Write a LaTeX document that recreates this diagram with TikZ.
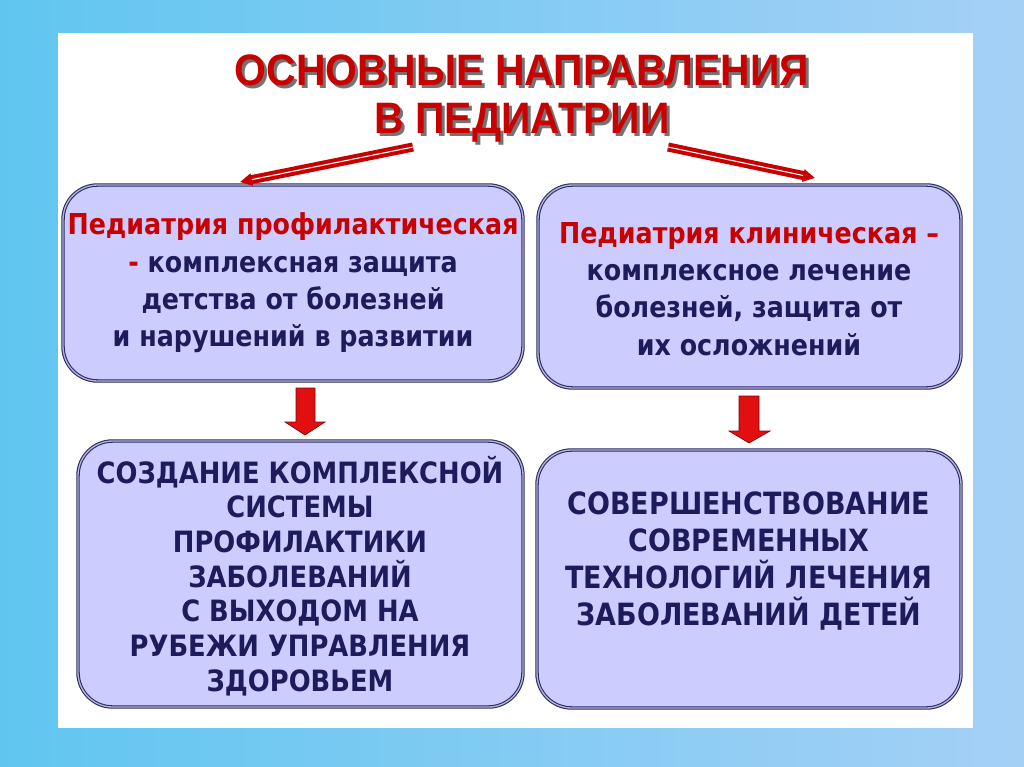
\documentclass[tikz,border=0pt]{standalone}
\usepackage{fontspec}
\setmainfont{Liberation Sans}
\newfontfamily\titlefont[FakeStretch=0.93]{Liberation Sans}
\newfontfamily\boxfont[FakeStretch=0.88]{DejaVu Sans}
\usetikzlibrary{arrows.meta}
\definecolor{bgA}{RGB}{96,198,240}
\definecolor{bgB}{RGB}{165,208,246}
\definecolor{boxfill}{RGB}{204,204,255}
\definecolor{boxline}{RGB}{40,40,110}
\definecolor{navytext}{RGB}{28,28,92}
\definecolor{redtext}{RGB}{200,0,0}
\definecolor{arrowred}{RGB}{225,15,15}
\tikzset{
  rbox/.style={draw=boxline, fill=boxfill, rounded corners=26pt, line width=0.8pt, double=boxline!35, double distance=1pt},
  boxtext/.style={align=center, text=navytext, font=\boxfont\bfseries\fontsize{21.6pt}{28pt}\selectfont},
  captext/.style={align=center, text=navytext, font=\boxfont\bfseries\fontsize{22pt}{26pt}\selectfont},
  captextb/.style={align=center, text=navytext, font=\boxfont\bfseries\fontsize{23pt}{27.8pt}\selectfont},
  titletext/.style={align=center, font=\titlefont\bfseries\fontsize{33pt}{36pt}\selectfont},
  blockarrow/.style={draw=arrowred!55!black, line width=0.5pt, fill=arrowred, line join=miter},
  linkarrow/.style={draw=redtext, line width=3pt, double=white, double distance=0.8pt, -{Triangle[length=9pt,width=9pt]}}
}
\begin{document}
\begin{tikzpicture}[x=0.75pt,y=-0.75pt]
\useasboundingbox (0,0) rectangle (1024,767);
\shade[left color=bgA, right color=bgB] (0,0) rectangle (1024,767);
\fill[white] (58,33) rectangle (973,728);
% title
\node[titletext, text=black!55] at (525,102) {ОСНОВНЫЕ НАПРАВЛЕНИЯ\\В ПЕДИАТРИИ};
\node[titletext, text=redtext] (title) at (522,99) {ОСНОВНЫЕ НАПРАВЛЕНИЯ\\В ПЕДИАТРИИ};
% boxes
\draw[rbox] (63,185) rectangle (523,381);
\draw[rbox] (538,185) rectangle (961,388);
\draw[rbox] (78,441) rectangle (523,707);
\draw[rbox] (537,450) rectangle (961,708);
\node[boxtext] (t1) at (293,283) {\textcolor{redtext}{Педиатрия профилактическая}\\\textcolor{redtext}{-} комплексная защита\\детства от болезней\\и нарушений в развитии};
\node[boxtext] (t2) at (749,289) {\textcolor{redtext}{Педиатрия клиническая –}\\комплексное лечение\\болезней, защита от\\их осложнений};
\node[captext] (t3) at (300,576) {СОЗДАНИЕ КОМПЛЕКСНОЙ\\СИСТЕМЫ\\ПРОФИЛАКТИКИ\\ЗАБОЛЕВАНИЙ\\С ВЫХОДОМ НА\\РУБЕЖИ УПРАВЛЕНИЯ\\ЗДОРОВЬЕМ};
\node[captextb] (t4) at (749,561) {СОВЕРШЕНСТВОВАНИЕ\\СОВРЕМЕННЫХ\\ТЕХНОЛОГИЙ ЛЕЧЕНИЯ\\ЗАБОЛЕВАНИЙ ДЕТЕЙ};
% block arrows
\draw[blockarrow] (296,388) -- (315,388) -- (315,422) -- (325,422) -- (305,435) -- (285,422) -- (296,422) -- cycle;
\draw[blockarrow] (739,396) -- (759,396) -- (759,431) -- (770,431) -- (749,443) -- (729,431) -- (739,431) -- cycle;
% title links
\coordinate (l1s) at (413,147);
\coordinate (l1e) at (240,182);
\coordinate (l2s) at (668,147);
\coordinate (l2e) at (815,178);
\draw[linkarrow] (l1s) -- (l1e);
\draw[linkarrow] (l2s) -- (l2e);
\end{tikzpicture}
\end{document}
